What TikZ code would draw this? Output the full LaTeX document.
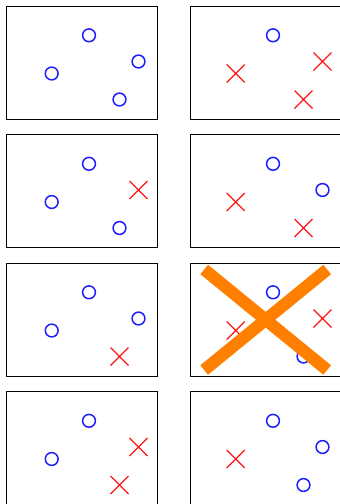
\documentclass[tikz,border=0pt]{standalone}
\definecolor{ringblue}{RGB}{30,30,255}
\definecolor{xred}{RGB}{255,20,20}
\definecolor{bigorange}{RGB}{255,128,0}
\newcommand\myring[2]{\draw[ring] (#1,#2) circle[radius=6.4pt];}
\newcommand\mycross[2]{\draw[xmark] (#1,#2) ++(-9,-9) -- ++(18,18) ++(0,-18) -- ++(-18,18);}
\begin{document}
\begin{tikzpicture}[x=1pt,y=-1pt,
  panel/.style={draw=black,line width=1pt},
  ring/.style={draw=ringblue,line width=1.5pt},
  xmark/.style={draw=xred,line width=1.3pt},
  bigx/.style={draw=bigorange,line width=12.2pt,line cap=butt}]
\useasboundingbox (0,0) rectangle (340,504);
% row 1
\begin{scope}[shift={(6,6)}]
  \draw[panel] (0,0) rectangle (151,113);
  \myring{83}{29.3}\myring{45.7}{67.5}\myring{132.5}{55.5}\myring{113.5}{93.5}
\end{scope}
\begin{scope}[shift={(190,6)}]
  \draw[panel] (0,0) rectangle (151,113);
  \myring{83}{29.3}\mycross{45.7}{67.5}\mycross{132.5}{55.5}\mycross{113.5}{93.5}
\end{scope}
% row 2
\begin{scope}[shift={(6,134.5)}]
  \draw[panel] (0,0) rectangle (151,113);
  \myring{83}{29.3}\myring{45.7}{67.5}\mycross{132.5}{55.5}\myring{113.5}{93.5}
\end{scope}
\begin{scope}[shift={(190,134.5)}]
  \draw[panel] (0,0) rectangle (151,113);
  \myring{83}{29.3}\mycross{45.7}{67.5}\myring{132.5}{55.5}\mycross{113.5}{93.5}
\end{scope}
% row 3
\begin{scope}[shift={(6,263)}]
  \draw[panel] (0,0) rectangle (151,113);
  \myring{83}{29.3}\myring{45.7}{67.5}\myring{132.5}{55.5}\mycross{113.5}{93.5}
\end{scope}
\begin{scope}[shift={(190,263)}]
  \draw[panel] (0,0) rectangle (151,113);
  \myring{83}{29.3}\mycross{45.7}{67.5}\mycross{132.5}{55.5}\myring{113.5}{93.5}
  \coordinate (tl) at (14.2,6.5);
  \coordinate (br) at (137.2,107);
  \coordinate (tr) at (137.2,6.5);
  \coordinate (bl) at (14.2,107);
  \draw[bigx] (tl) -- (br);
  \draw[bigx] (tr) -- (bl);
\end{scope}
% row 4
\begin{scope}[shift={(6,391.5)}]
  \draw[panel] (0,0) rectangle (151,113);
  \myring{83}{29.3}\myring{45.7}{67.5}\mycross{132.5}{55.5}\mycross{113.5}{93.5}
\end{scope}
\begin{scope}[shift={(190,391.5)}]
  \draw[panel] (0,0) rectangle (151,113);
  \myring{83}{29.3}\mycross{45.7}{67.5}\myring{132.5}{55.5}\myring{113.5}{93.5}
\end{scope}
\end{tikzpicture}
\end{document}
